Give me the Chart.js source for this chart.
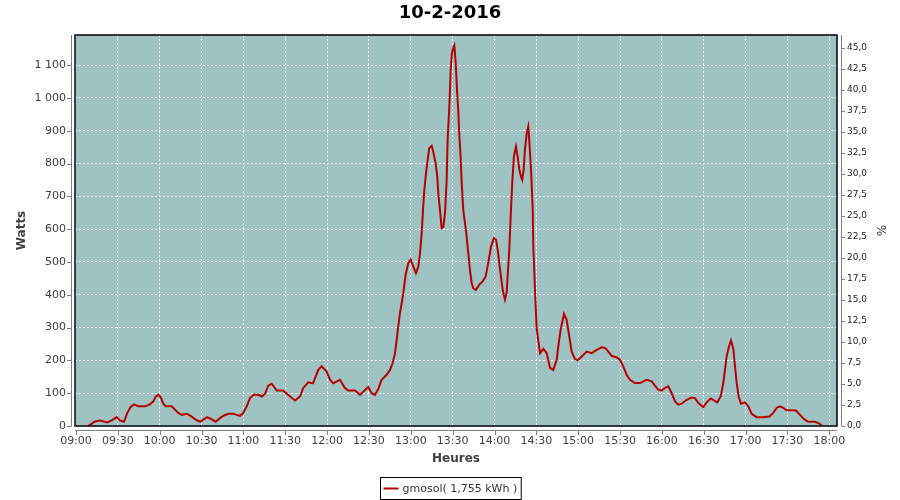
<!DOCTYPE html>
<html>
<head>
<meta charset="utf-8">
<script src="https://cdn.jsdelivr.net/npm/chart.js@4"></script>
<style>
body { margin: 0; background: #fff; }
canvas { display: block; }
</style>
</head>
<body>
<canvas id="chart" width="900" height="500"></canvas>
<script>
// minutes after 09:00
let minutes = [
    8.8, 13.6, 17.2, 19.6, 22.4, 25.6, 29.2, 31.5, 34.4, 36.8,
    39.2, 41.6, 44.7, 49.5, 53.0, 55.4, 57.3, 59.0, 60.7, 62.6,
    64.3, 68.6, 71.0, 73.3, 75.8, 79.3, 82.2, 85.3, 88.9, 91.8,
    94.1, 97.3, 100.1, 103.2, 106.1, 109.2, 112.8, 115.2, 117.6, 119.9,
    122.4, 124.7, 127.6, 130.7, 133.1, 135.5, 137.8, 140.3, 143.9, 148.4,
    152.0, 157.0, 160.6, 162.9, 166.5, 169.9, 173.7, 176.1, 179.7, 182.1,
    184.4, 189.2, 192.8, 195.2, 200.0, 203.6, 207.9, 209.5, 212.0, 214.3,
    216.7, 219.1, 222.7, 225.1, 227.0, 228.7, 229.9, 231.0, 232.2, 233.5,
    234.6, 236.3, 238.2, 239.9, 241.8, 243.7, 245.4, 246.6, 247.8, 248.9,
    249.7, 250.9, 252.1, 253.2, 255.0, 256.1, 257.8, 259.0, 259.7, 260.9,
    262.1, 263.3, 264.5, 265.7, 266.4, 267.6, 268.6, 269.5, 270.4, 271.2,
    272.2, 273.1, 274.0, 274.7, 275.7, 276.5, 277.6, 278.8, 280.0, 281.2,
    282.4, 283.6, 284.8, 286.7, 289.1, 291.5, 293.7, 295.5, 297.5, 299.6,
    301.1, 302.3, 303.4, 304.6, 305.9, 307.5, 308.7, 309.4, 310.6, 311.6,
    312.7, 313.9, 315.4, 316.6, 317.8, 319.0, 319.9, 320.9, 321.8, 323.1,
    324.2, 324.9, 326.2, 327.4, 327.8, 328.5, 329.2, 330.2, 332.6, 335.0,
    337.4, 339.8, 342.1, 344.6, 345.7, 347.4, 349.8, 351.7, 353.6, 355.3,
    357.7, 359.6, 362.5, 366.1, 369.7, 373.2, 376.8, 379.2, 381.6, 384.0,
    387.6, 389.9, 392.3, 394.7, 397.1, 400.7, 404.3, 406.7, 409.1, 412.7,
    415.0, 417.4, 419.8, 422.2, 424.6, 427.0, 429.4, 431.7, 434.2, 437.8,
    441.4, 443.7, 446.1, 449.7, 452.1, 455.0, 457.3, 459.7, 462.1, 464.0,
    465.2, 466.4, 468.1, 469.5, 471.2, 472.4, 473.6, 475.0, 476.7, 479.5,
    481.9, 484.3, 487.9, 492.7, 497.0, 499.8, 502.2, 504.6, 507.0, 509.4,
    513.0, 516.1, 519.0, 521.9, 524.9, 529.7, 532.1, 534.5
];

let watts = [
    0, 14, 17, 14, 11, 17, 27, 17, 13, 40,
    58, 66, 60, 60, 66, 75, 90, 95, 88, 68,
    60, 60, 50, 40, 34, 37, 31, 21, 13, 21,
    27, 20, 13, 24, 32, 37, 37, 34, 31, 40,
    60, 85, 96, 95, 90, 98, 123, 129, 108, 108,
    95, 78, 90, 116, 133, 130, 171, 182, 166, 141,
    130, 141, 116, 108, 108, 95, 113, 119, 100, 95,
    113, 141, 156, 171, 192, 222, 263, 303, 344, 375,
    405, 461, 497, 507, 486, 466, 486, 527, 588, 669,
    720, 771, 811, 847, 854, 836, 801, 760, 710, 659,
    603, 607, 649, 750, 872, 974, 1086, 1137, 1152, 1160,
    1106, 1025, 964, 893, 821, 740, 659, 619, 578, 527,
    476, 436, 420, 415, 431, 441, 456, 497, 547, 573,
    568, 537, 497, 456, 415, 385, 405, 456, 537, 639,
    740, 821, 852, 821, 781, 760, 750, 781, 842, 893,
    913, 872, 781, 659, 547, 476, 395, 299, 222, 235,
    222, 177, 171, 202, 243, 293, 342, 324, 273, 227,
    204, 200, 212, 227, 222, 232, 240, 238, 227, 214,
    209, 202, 182, 156, 141, 131, 131, 136, 141, 136,
    123, 111, 108, 116, 121, 100, 75, 65, 68, 80,
    87, 85, 70, 58, 72, 84, 78, 72, 90, 131,
    171, 212, 243, 261, 235, 182, 131, 90, 68, 72,
    60, 37, 27, 27, 29, 40, 55, 60, 55, 48,
    48, 47, 34, 21, 13, 13, 9, 2
];

let xTicks = ["09:00", "09:30", "10:00", "10:30", "11:00", "11:30", "12:00", "12:30", "13:00",
              "13:30", "14:00", "14:30", "15:00", "15:30", "16:00", "16:30", "17:00", "17:30", "18:00"];
let wattTicks = [0, 100, 200, 300, 400, 500, 600, 700, 800, 900, 1000, 1100];
let pctTicks = [0, 2.5, 5, 7.5, 10, 12.5, 15, 17.5, 20, 22.5, 25, 27.5, 30, 32.5, 35, 37.5, 40, 42.5, 45];

let wattMax = 1192;
let wattsFor100pct = 2561;

function toMin(t) {
    let p = t.split(":");
    return (parseInt(p[0]) - 9) * 60 + parseInt(p[1]);
}

const FONT = "'DejaVu Sans', sans-serif";

const frame = {
    id: "frame",
    beforeDraw(chart) {
        let a = chart.chartArea, ctx = chart.ctx;
        ctx.save();
        ctx.fillStyle = "#9fc3c3";
        ctx.fillRect(a.left, a.top, a.right - a.left, a.bottom - a.top);
        ctx.restore();
    },
    afterDraw(chart) {
        let a = chart.chartArea, ctx = chart.ctx;
        ctx.save();
        // plot outline
        ctx.strokeStyle = "#000";
        ctx.lineWidth = 1.5;
        ctx.strokeRect(a.left, a.top, a.right - a.left, a.bottom - a.top);

        // offset axis lines with tick marks
        ctx.strokeStyle = "#808080";
        ctx.lineWidth = 1;
        ctx.beginPath();
        ctx.moveTo(a.left - 3.5, a.top);
        ctx.lineTo(a.left - 3.5, a.bottom);
        chart.scales.y.ticks.forEach(t => {
            let y = Math.round(chart.scales.y.getPixelForValue(t.value)) + 0.5;
            ctx.moveTo(a.left - 3.5, y);
            ctx.lineTo(a.left - 8, y);
        });
        ctx.moveTo(a.right + 4.5, a.top);
        ctx.lineTo(a.right + 4.5, a.bottom);
        chart.scales.y1.ticks.forEach(t => {
            let y = Math.round(chart.scales.y1.getPixelForValue(t.value)) + 0.5;
            ctx.moveTo(a.right + 4.5, y);
            ctx.lineTo(a.right + 8, y);
        });
        ctx.moveTo(a.left, a.bottom + 4.5);
        ctx.lineTo(a.right, a.bottom + 4.5);
        chart.scales.x.ticks.forEach(t => {
            let x = Math.round(chart.scales.x.getPixelForValue(t.value)) + 0.5;
            ctx.moveTo(x, a.bottom + 4.5);
            ctx.lineTo(x, a.bottom + 9);
        });
        ctx.stroke();

        // legend with a box
        let ds = chart.data.datasets[0];
        ctx.font = "11px " + FONT;
        let tw = ctx.measureText(ds.label).width;
        let w = 3 + 15 + 4 + tw + 4;
        let h = 22;
        let x0 = Math.round(chart.width / 2 - w / 2) + 0.5;
        let y0 = 477.5;
        ctx.fillStyle = "#fff";
        ctx.fillRect(x0, y0, w, h);
        ctx.strokeStyle = "#000";
        ctx.lineWidth = 1;
        ctx.strokeRect(x0, y0, w, h);
        ctx.strokeStyle = ds.borderColor;
        ctx.lineWidth = 2;
        ctx.beginPath();
        ctx.moveTo(x0 + 3, y0 + h / 2);
        ctx.lineTo(x0 + 18, y0 + h / 2);
        ctx.stroke();
        ctx.fillStyle = "#333";
        ctx.textBaseline = "middle";
        ctx.fillText(ds.label, x0 + 22, y0 + h / 2 + 0.5);
        ctx.restore();
    }
};

new Chart(document.getElementById("chart"), {
    type: "line",
    data: {
        datasets: [{
            label: "gmosol( 1,755 kWh )",
            data: minutes.map((m, i) => ({ x: m, y: watts[i] })),
            borderColor: "#b80000",
            borderWidth: 2,
            pointRadius: 0,
            tension: 0,
            yAxisID: "y"
        }]
    },
    options: {
        responsive: false,
        animation: false,
        layout: { padding: { left: 0, right: 0, top: 0, bottom: 27 } },
        plugins: {
            legend: { display: false },
            tooltip: { enabled: false },
            title: {
                display: true,
                text: "10-2-2016",
                color: "#000",
                font: { family: FONT, size: 18, weight: "bold" },
                padding: { top: 3, bottom: 10.4 }
            }
        },
        scales: {
            x: {
                type: "linear",
                min: -0.7,
                max: 545.5,
                afterFit: s => { s.height = 47; },
                afterBuildTicks: s => { s.ticks = xTicks.map(t => ({ value: toMin(t) })); },
                ticks: {
                    autoSkip: false,
                    maxRotation: 0,
                    padding: 9,
                    color: "#404040",
                    font: { family: FONT, size: 11 },
                    callback: (v, i) => xTicks[i]
                },
                grid: { color: "#fff", lineWidth: 1, drawTicks: false },
                border: { display: false, dash: [2, 2] },
                title: {
                    display: true,
                    text: "Heures",
                    color: "#404040",
                    font: { family: FONT, size: 12, weight: "bold" },
                    padding: { top: 0, bottom: 6.8 }
                }
            },
            y: {
                position: "left",
                min: 0,
                max: wattMax,
                afterFit: s => { s.width = 75; },
                afterBuildTicks: s => { s.ticks = wattTicks.map(v => ({ value: v })); },
                ticks: {
                    padding: 9,
                    color: "#404040",
                    font: { family: FONT, size: 11 },
                    callback: v => String(v).replace(/\B(?=(\d{3})+$)/g, " ")
                },
                grid: { color: "#fff", lineWidth: 1, drawTicks: false },
                border: { display: false, dash: [2, 2] },
                title: {
                    display: true,
                    text: "Watts",
                    color: "#404040",
                    font: { family: FONT, size: 12, weight: "bold" },
                    padding: { top: 14.5, bottom: 0 }
                }
            },
            y1: {
                position: "right",
                display: true,
                min: 0,
                max: wattMax / wattsFor100pct * 100,
                afterFit: s => { s.width = 63; },
                afterBuildTicks: s => { s.ticks = pctTicks.map(v => ({ value: v })); },
                ticks: {
                    padding: 10,
                    color: "#222",
                    font: { family: FONT, size: 9 },
                    callback: v => v.toFixed(1).replace(".", ",")
                },
                grid: { display: false, drawTicks: false },
                border: { display: false },
                title: {
                    display: true,
                    text: "%",
                    color: "#404040",
                    font: { family: FONT, size: 12 },
                    padding: { top: 12.8, bottom: 0 }
                }
            }
        }
    },
    plugins: [frame]
});
</script>
</body>
</html>
